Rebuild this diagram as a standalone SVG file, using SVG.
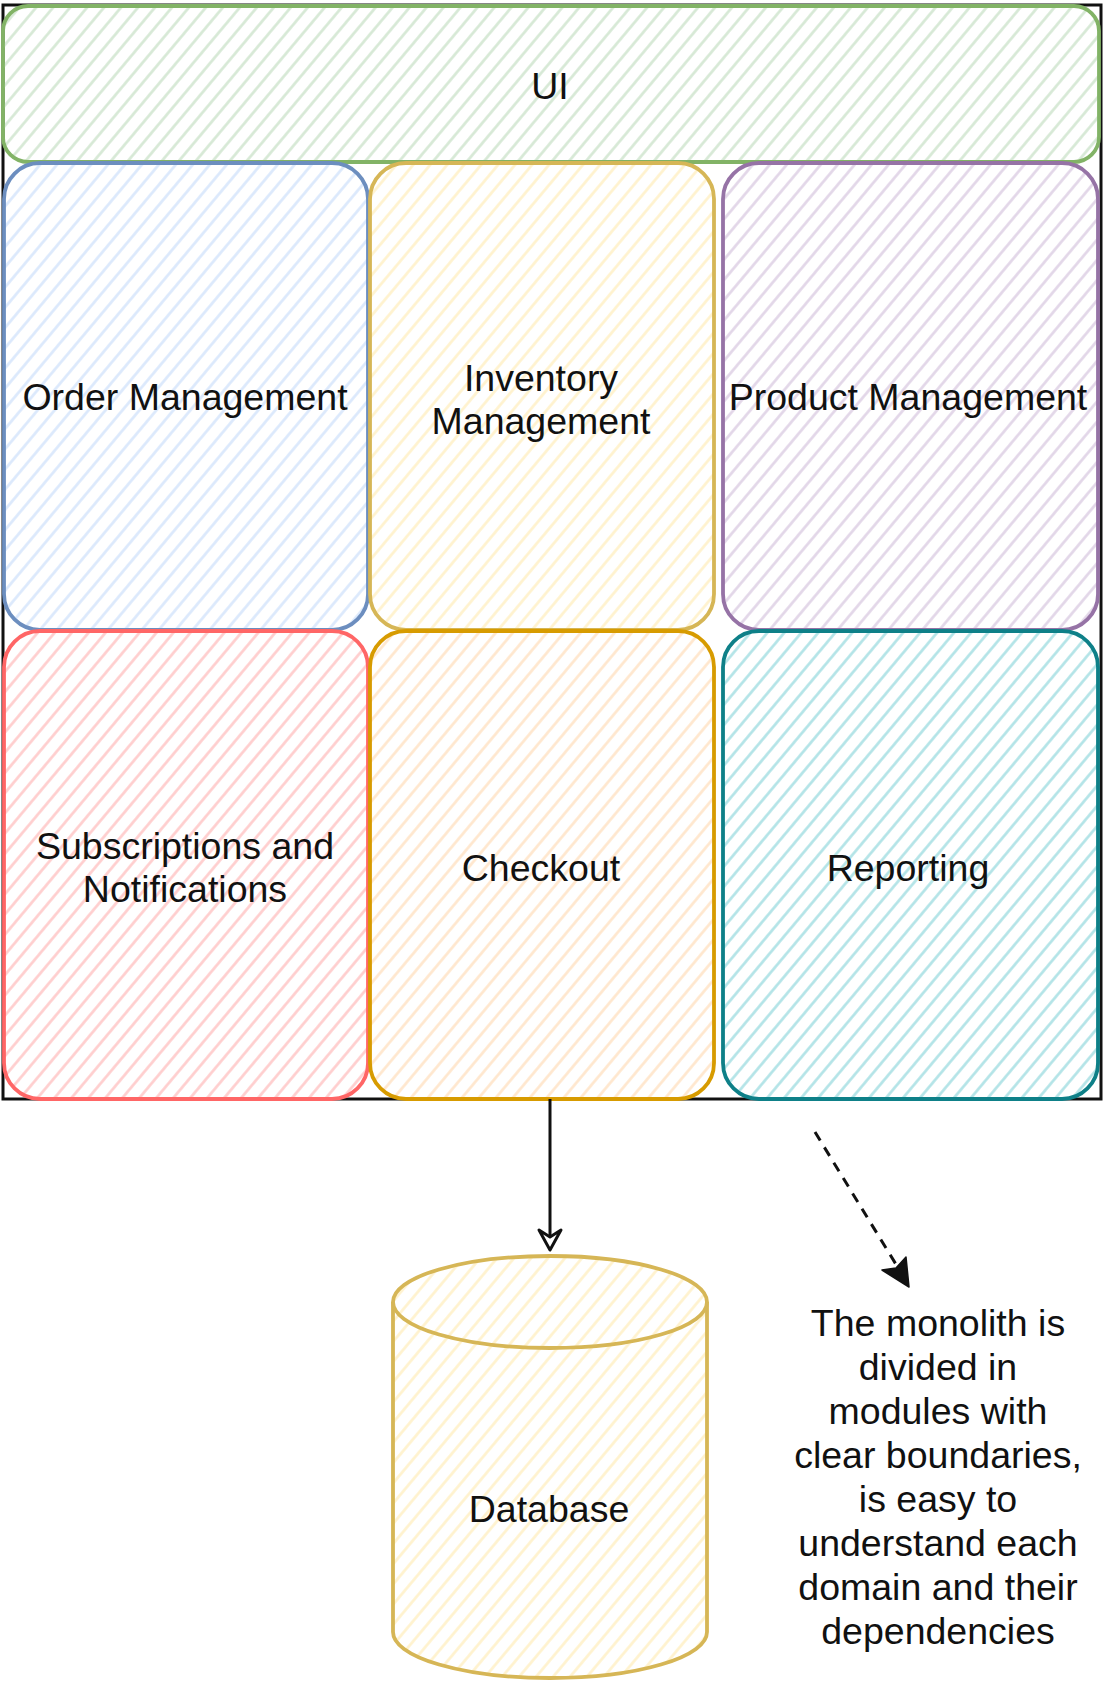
<svg xmlns="http://www.w3.org/2000/svg" width="1104" height="1684" viewBox="0 0 1104 1684">
<style>
.lbl{font-family:"Liberation Sans",Arial,sans-serif;font-size:37.5px;fill:#111;text-anchor:middle}
.box{stroke-width:3.8}
</style>
<defs>
<pattern id="hG" patternUnits="userSpaceOnUse" width="13" height="13" patternTransform="rotate(40)"><line x1="6.5" y1="0" x2="6.5" y2="13" stroke="#d5e8d4" stroke-width="2.6"/></pattern>
<pattern id="hB" patternUnits="userSpaceOnUse" width="13" height="13" patternTransform="rotate(40)"><line x1="6.5" y1="0" x2="6.5" y2="13" stroke="#dae8fc" stroke-width="2.6"/></pattern>
<pattern id="hY" patternUnits="userSpaceOnUse" width="13" height="13" patternTransform="rotate(40)"><line x1="6.5" y1="0" x2="6.5" y2="13" stroke="#fff2cc" stroke-width="2.6"/></pattern>
<pattern id="hP" patternUnits="userSpaceOnUse" width="13" height="13" patternTransform="rotate(40)"><line x1="6.5" y1="0" x2="6.5" y2="13" stroke="#e1d5e7" stroke-width="2.6"/></pattern>
<pattern id="hR" patternUnits="userSpaceOnUse" width="13" height="13" patternTransform="rotate(40)"><line x1="6.5" y1="0" x2="6.5" y2="13" stroke="#ffcccc" stroke-width="2.6"/></pattern>
<pattern id="hO" patternUnits="userSpaceOnUse" width="13" height="13" patternTransform="rotate(40)"><line x1="6.5" y1="0" x2="6.5" y2="13" stroke="#ffe6cc" stroke-width="2.6"/></pattern>
<pattern id="hT" patternUnits="userSpaceOnUse" width="13" height="13" patternTransform="rotate(40)"><line x1="6.5" y1="0" x2="6.5" y2="13" stroke="#b0e3e6" stroke-width="2.6"/></pattern>
</defs>
<g id="monolith">
<rect x="3" y="5" width="1098" height="1094" fill="none" stroke="#111" stroke-width="3"/>
</g>
<g id="ui">
<rect class="box" x="3" y="6" width="1096" height="156" rx="25" fill="url(#hG)" stroke="#82b366"/>
<text class="lbl" x="550" y="99">UI</text>
</g>
<g id="order-management">
<rect class="box" x="4" y="163" width="364" height="467" rx="36" fill="url(#hB)" stroke="#6c8ebf"/>
<text class="lbl" x="185" y="410">Order Management</text>
</g>
<g id="inventory-management">
<rect class="box" x="370" y="163" width="344" height="467" rx="36" fill="url(#hY)" stroke="#d6b656"/>
<text class="lbl" x="541" y="391">Inventory</text>
<text class="lbl" x="541" y="434">Management</text>
</g>
<g id="product-management">
<rect class="box" x="723" y="163" width="375" height="467" rx="36" fill="url(#hP)" stroke="#9673a6"/>
<text class="lbl" x="908" y="410">Product Management</text>
</g>
<g id="subscriptions">
<rect class="box" x="4" y="631" width="364" height="468" rx="36" fill="url(#hR)" stroke="#ff6666"/>
<text class="lbl" x="185" y="859">Subscriptions and</text>
<text class="lbl" x="185" y="902">Notifications</text>
</g>
<g id="checkout">
<rect class="box" x="370" y="631" width="344" height="468" rx="36" fill="url(#hO)" stroke="#d79b00"/>
<text class="lbl" x="541" y="881">Checkout</text>
</g>
<g id="reporting">
<rect class="box" x="723" y="631" width="375" height="468" rx="36" fill="url(#hT)" stroke="#0e8088"/>
<text class="lbl" x="908" y="881">Reporting</text>
</g>
<g id="database">
<path d="M393 1302 A157 46 0 0 1 707 1302 L707 1632 A157 46 0 0 1 393 1632 Z" fill="url(#hY)" stroke="#d6b656" stroke-width="3.8"/>
<path d="M393 1302 A157 46 0 0 0 707 1302" fill="none" stroke="#d6b656" stroke-width="3.8"/>
<text class="lbl" x="549" y="1522">Database</text>
</g>
<g id="note">
<text class="lbl" x="938" y="1336">The monolith is</text>
<text class="lbl" x="938" y="1380">divided in</text>
<text class="lbl" x="938" y="1424">modules with</text>
<text class="lbl" x="938" y="1468">clear boundaries,</text>
<text class="lbl" x="938" y="1512">is easy to</text>
<text class="lbl" x="938" y="1556">understand each</text>
<text class="lbl" x="938" y="1600">domain and their</text>
<text class="lbl" x="938" y="1644">dependencies</text>
</g>
<g id="connectors">
<line x1="550" y1="1099" x2="550" y2="1238" stroke="#111" stroke-width="3"/>
<polygon points="550,1250 539,1230 550,1237 561,1230" fill="#fff" stroke="#111" stroke-width="3" stroke-linejoin="round"/>
<line x1="815" y1="1132" x2="897" y2="1266" stroke="#111" stroke-width="3" stroke-dasharray="10 8"/>
<polygon points="909,1287 882,1270 896,1268 906,1257" fill="#111" stroke="#111" stroke-width="1.5" stroke-linejoin="round"/>
</g>
</svg>
